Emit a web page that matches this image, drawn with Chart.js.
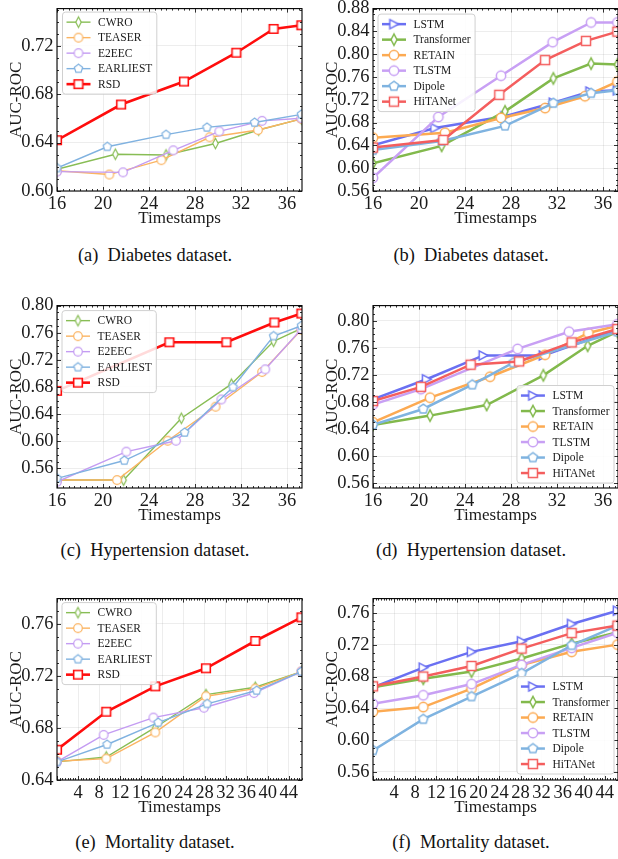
<!DOCTYPE html>
<html><head><meta charset="utf-8">
<script src="https://cdn.jsdelivr.net/npm/chart.js@4.4.1/dist/chart.umd.min.js"></script>
<style>
html,body{margin:0;padding:0;background:#fff;overflow:hidden;width:618px;height:859px;position:relative;}
canvas{position:absolute;}
.cap{position:absolute;font-family:"Liberation Serif","Times New Roman",serif;font-size:18.4px;line-height:20px;color:#111;white-space:nowrap;transform:translateX(-50%);}
</style></head><body>
<script>
// ---------- tick labels ----------
const xTicksDiabHyp = [16, 20, 24, 28, 32, 36];
const xTicksMort = [4, 8, 12, 16, 20, 24, 28, 32, 36, 40, 44];
const yTicksA = [0.60, 0.64, 0.68, 0.72];
const yTicksB = [0.56, 0.60, 0.64, 0.68, 0.72, 0.76, 0.80, 0.84, 0.88];
const yTicksC = [0.56, 0.60, 0.64, 0.68, 0.72, 0.76, 0.80];
const yTicksD = [0.56, 0.60, 0.64, 0.68, 0.72, 0.76, 0.80];
const yTicksE = [0.64, 0.68, 0.72, 0.76];
const yTicksF = [0.56, 0.60, 0.64, 0.68, 0.72, 0.76];

const earlyMethods = ['CWRO', 'TEASER', 'E2EEC', 'EARLIEST', 'RSD'];
const healthMethods = ['LSTM', 'Transformer', 'RETAIN', 'TLSTM', 'Dipole', 'HiTANet'];
const captions = ['(a)\u2002Diabetes dataset.', '(b)\u2002Diabetes dataset.', '(c)\u2002Hypertension dataset.',
                  '(d)\u2002Hypertension dataset.', '(e)\u2002Mortality dataset.', '(f)\u2002Mortality dataset.'];

// ---------- (a) Diabetes, early classification ----------
const aCWRO_x = [16, 21.07, 25.48, 29.77, 33.53, 37.25];
const aCWRO_y = [0.618, 0.6304, 0.6298, 0.6393, 0.6504, 0.6596];
const aTEASER_x = [16, 20.55, 25.07, 29.27, 33.48, 37.25];
const aTEASER_y = [0.6168, 0.6136, 0.6255, 0.6444, 0.6504, 0.6596];
const aE2EEC_x = [16, 21.74, 26.11, 30.11, 33.83, 37.25];
const aE2EEC_y = [0.616, 0.6154, 0.6336, 0.6493, 0.658, 0.6601];
const aEARLIEST_x = [16, 20.37, 25.48, 29.04, 33.18, 37.25];
const aEARLIEST_y = [0.619, 0.6366, 0.6466, 0.6526, 0.6566, 0.6634];
const aRSD_x = [16, 21.57, 27.04, 31.59, 34.83, 37.25];
const aRSD_y = [0.642, 0.6715, 0.6905, 0.7143, 0.734, 0.737];

// ---------- (b) Diabetes, health models ----------
const bLSTM_x = [16, 21.39, 27.48, 31.68, 34.87, 37.25];
const bLSTM_y = [0.6404, 0.6704, 0.6912, 0.7149, 0.7345, 0.7367];
const bTransformer_x = [16, 21.97, 27.48, 31.68, 34.96, 37.25];
const bTransformer_y = [0.6085, 0.6392, 0.6998, 0.7575, 0.7835, 0.7818];
const bRETAIN_x = [16, 22.26, 27.13, 30.96, 34.43, 37.25];
const bRETAIN_y = [0.6536, 0.6622, 0.6882, 0.7055, 0.7263, 0.7518];
const bTLSTM_x = [16, 21.68, 27.13, 31.62, 34.96, 37.25];
const bTLSTM_y = [0.5832, 0.6899, 0.7622, 0.8211, 0.8557, 0.8557];
const bDipole_x = [16, 21.97, 27.48, 31.68, 34.96, 37.25];
const bDipole_y = [0.6317, 0.6478, 0.6743, 0.7142, 0.7315, 0.7367];
const bHiTANet_x = [16, 22.11, 26.98, 30.96, 34.52, 37.25];
const bHiTANet_y = [0.6362, 0.6496, 0.7287, 0.7897, 0.8233, 0.8396];

// ---------- (c) Hypertension, early classification ----------
const cCWRO_x = [16, 21.79, 26.81, 31.16, 34.83, 37.25];
const cCWRO_y = [0.5427, 0.5427, 0.6338, 0.6841, 0.7474, 0.7664];
const cTEASER_x = [16, 21.22, 25.62, 29.79, 33.83, 37.25];
const cTEASER_y = [0.5427, 0.5427, 0.6007, 0.6509, 0.702, 0.7645];
const cE2EEC_x = [16, 22.03, 26.35, 30.29, 34.11, 37.25];
const cE2EEC_y = [0.5402, 0.5846, 0.6007, 0.6616, 0.706, 0.7655];
const cEARLIEST_x = [16, 21.85, 27.1, 31.3, 34.83, 37.25];
const cEARLIEST_y = [0.5452, 0.5715, 0.6129, 0.6797, 0.7551, 0.7703];
const cRSD_x = [16, 25.77, 30.73, 34.9, 37.25];
const cRSD_y = [0.6743, 0.7459, 0.7459, 0.7751, 0.7883];

// ---------- (d) Hypertension, health models ----------
const dLSTM_x = [16, 20.66, 25.59, 30.81, 37.25];
const dLSTM_y = [0.684, 0.7135, 0.7487, 0.7487, 0.7868];
const dTransformer_x = [16, 20.96, 25.88, 30.81, 34.66, 37.25];
const dTransformer_y = [0.646, 0.6598, 0.6755, 0.7193, 0.763, 0.7838];
const dRETAIN_x = [16, 20.96, 26.18, 30.96, 34.72, 37.25];
const dRETAIN_y = [0.6499, 0.6863, 0.7173, 0.7497, 0.7819, 0.7927];
const dTLSTM_x = [16, 20.17, 28.57, 33.04, 37.25];
const dTLSTM_y = [0.6763, 0.6989, 0.7584, 0.7838, 0.7949];
const dDipole_x = [16, 20.37, 24.63, 28.2, 37.25];
const dDipole_y = [0.6461, 0.6696, 0.7055, 0.738, 0.7838];
const dHiTANet_x = [16, 20.17, 24.49, 28.7, 33.27, 37.25];
const dHiTANet_y = [0.6813, 0.7023, 0.735, 0.7399, 0.768, 0.7878];

// ---------- (e) Mortality, early classification ----------
const eCWRO_x = [0, 9.35, 18.65, 28.27, 37.63, 46.4];
const eCWRO_y = [0.6539, 0.6577, 0.6804, 0.7057, 0.7113, 0.7234];
const eTEASER_x = [0, 9.35, 18.65, 28.27, 37.63, 46.4];
const eTEASER_y = [0.6544, 0.6564, 0.6766, 0.7044, 0.7103, 0.7234];
const eE2EEC_x = [0, 8.85, 18.3, 27.9, 37.4, 46.4];
const eE2EEC_y = [0.6539, 0.6747, 0.688, 0.6956, 0.7069, 0.7234];
const eEARLIEST_x = [0, 9.5, 19.2, 28.5, 37.9, 46.4];
const eEARLIEST_y = [0.6539, 0.6673, 0.6842, 0.6986, 0.7088, 0.7234];
const eRSD_x = [0, 9.35, 18.65, 28.27, 37.63, 46.4];
const eRSD_y = [0.6633, 0.6925, 0.712, 0.7259, 0.7469, 0.7651];

// ---------- (f) Mortality, health models ----------
const fTimes = [0, 9.54, 18.7, 28.2, 37.7, 46.4];
const fLSTM_y = [0.6665, 0.6913, 0.7112, 0.7245, 0.7463, 0.763];
const fTransformer_y = [0.6665, 0.6773, 0.6863, 0.7029, 0.7215, 0.736];
const fRETAIN_y = [0.6358, 0.6416, 0.6648, 0.6947, 0.7112, 0.7203];
const fTLSTM_y = [0.6457, 0.6565, 0.6706, 0.6947, 0.7162, 0.7352];
const fDipole_y = [0.587, 0.6263, 0.6549, 0.6842, 0.7195, 0.7443];
const fHiTANet_y = [0.6677, 0.6801, 0.6934, 0.7153, 0.7348, 0.7443];

// ================= rendering =================
const FONT = '"Liberation Serif","Times New Roman",serif';
const TXT = '#1a1a1a';

function marker(shape, color, r, lw) {
  const s = Math.ceil(2.5 * r + lw + 2);
  const c = document.createElement('canvas');
  c.width = c.height = s;
  const g = c.getContext('2d');
  const m = s / 2;
  g.beginPath();
  if (shape === 'circle') g.arc(m, m, r, 0, 2 * Math.PI);
  else if (shape === 'square') g.rect(m - r * 0.92, m - r * 0.92, 1.84 * r, 1.84 * r);
  else if (shape === 'diamond') { g.moveTo(m, m - r * 1.18); g.lineTo(m + r * 0.62, m); g.lineTo(m, m + r * 1.18); g.lineTo(m - r * 0.62, m); g.closePath(); }
  else if (shape === 'pentagon') { for (let i = 0; i < 5; i++) { const a = -Math.PI / 2 + i * 2 * Math.PI / 5; const px = m + r * Math.cos(a), py = m + r * Math.sin(a); if (i) g.lineTo(px, py); else g.moveTo(px, py); } g.closePath(); }
  else if (shape === 'tri') { g.moveTo(m + r, m); g.lineTo(m - r * 0.9, m - r); g.lineTo(m - r * 0.9, m + r); g.closePath(); }
  g.fillStyle = '#fff'; g.fill();
  g.strokeStyle = color; g.lineWidth = lw; g.lineJoin = 'miter'; g.stroke();
  return c;
}

const earlyStyle = {
  CWRO: {shape: 'diamond', color: '#88bd55', lw: 1.4, r: 4.4, mlw: 1.2},
  TEASER: {shape: 'circle', color: '#fbb462', lw: 1.4, r: 4.3, mlw: 1.2},
  E2EEC: {shape: 'circle', color: '#c49cf2', lw: 1.4, r: 4.3, mlw: 1.2},
  EARLIEST: {shape: 'pentagon', color: '#80b2e0', lw: 1.4, r: 4.4, mlw: 1.2},
  RSD: {shape: 'square', color: '#ff0d0d', lw: 2.6, r: 4.7, mlw: 1.6}
};
const healthStyle = {
  LSTM: {shape: 'tri', color: '#6a70f2', lw: 2.5, r: 4.6, mlw: 1.5},
  Transformer: {shape: 'diamond', color: '#82b94c', lw: 2.5, r: 4.8, mlw: 1.5},
  RETAIN: {shape: 'circle', color: '#fcaa52', lw: 2.5, r: 4.7, mlw: 1.5},
  TLSTM: {shape: 'circle', color: '#c8a0f4', lw: 2.5, r: 4.7, mlw: 1.5},
  Dipole: {shape: 'pentagon', color: '#7fb3e0', lw: 2.5, r: 4.9, mlw: 1.5},
  HiTANet: {shape: 'square', color: '#f45e5e', lw: 2.5, r: 4.9, mlw: 1.5}
};

function pts(xs, ys) { return xs.map((x, i) => ({x: x, y: ys[i]})); }

const panels = [
  {left: 0, top: -6, h: 237, xMin: 16, xMax: 37.3, yMin: 0.60, yMax: 0.7508, xTicks: xTicksDiabHyp, yTicks: yTicksA,
   styles: earlyStyle, names: earlyMethods,
   data: [pts(aCWRO_x, aCWRO_y), pts(aTEASER_x, aTEASER_y), pts(aE2EEC_x, aE2EEC_y), pts(aEARLIEST_x, aEARLIEST_y), pts(aRSD_x, aRSD_y)],
   legend: {corner: 'tl', dx: 5.5, dy: 3.5}, cap: captions[0], capX: 155, capY: 245},
  {left: 316, top: -6, h: 237, xMin: 16, xMax: 37.3, yMin: 0.56, yMax: 0.88, xTicks: xTicksDiabHyp, yTicks: yTicksB,
   styles: healthStyle, names: healthMethods,
   data: [pts(bLSTM_x, bLSTM_y), pts(bTransformer_x, bTransformer_y), pts(bRETAIN_x, bRETAIN_y), pts(bTLSTM_x, bTLSTM_y), pts(bDipole_x, bDipole_y), pts(bHiTANet_x, bHiTANet_y)],
   legend: {corner: 'tl', dx: 5, dy: 5.5}, cap: captions[1], capX: 471, capY: 245},
  {left: 0, top: 291, h: 237, xMin: 16, xMax: 37.3, yMin: 0.531, yMax: 0.80, xTicks: xTicksDiabHyp, yTicks: yTicksC,
   styles: earlyStyle, names: earlyMethods,
   data: [pts(cCWRO_x, cCWRO_y), pts(cTEASER_x, cTEASER_y), pts(cE2EEC_x, cE2EEC_y), pts(cEARLIEST_x, cEARLIEST_y), pts(cRSD_x, cRSD_y)],
   legend: {corner: 'tl', dx: 5, dy: 5}, cap: captions[2], capX: 155, capY: 540},
  {left: 316, top: 291, h: 237, xMin: 16, xMax: 37.3, yMin: 0.5528, yMax: 0.8224, xTicks: xTicksDiabHyp, yTicks: yTicksD,
   styles: healthStyle, names: healthMethods,
   data: [pts(dLSTM_x, dLSTM_y), pts(dTransformer_x, dTransformer_y), pts(dRETAIN_x, dRETAIN_y), pts(dTLSTM_x, dTLSTM_y), pts(dDipole_x, dDipole_y), pts(dHiTANet_x, dHiTANet_y)],
   legend: {corner: 'br', dx: 4, dy: 5}, cap: captions[3], capX: 471, capY: 540},
  {left: 0, top: 584, h: 236, xMin: 0, xMax: 46.5, yMin: 0.64, yMax: 0.7795, xTicks: xTicksMort, yTicks: yTicksE,
   styles: earlyStyle, names: earlyMethods,
   data: [pts(eCWRO_x, eCWRO_y), pts(eTEASER_x, eTEASER_y), pts(eE2EEC_x, eE2EEC_y), pts(eEARLIEST_x, eEARLIEST_y), pts(eRSD_x, eRSD_y)],
   legend: {corner: 'tl', dx: 5, dy: 4}, cap: captions[4], capX: 155, capY: 832},
  {left: 316, top: 584, h: 236, xMin: 0, xMax: 46.5, yMin: 0.5497, yMax: 0.7783, xTicks: xTicksMort, yTicks: yTicksF,
   styles: healthStyle, names: healthMethods,
   data: [pts(fTimes, fLSTM_y), pts(fTimes, fTransformer_y), pts(fTimes, fRETAIN_y), pts(fTimes, fTLSTM_y), pts(fTimes, fDipole_y), pts(fTimes, fHiTANet_y)],
   legend: {corner: 'br', dx: 4, dy: 6}, cap: captions[5], capX: 471, capY: 832}
];

function isMult(v, step) { const q = v / step; return Math.abs(q - Math.round(q)) < 1e-6; }

const framePlugin = {
  id: 'frame',
  afterDatasetsDraw(chart) {
    const {ctx, chartArea: a} = chart;
    const xs = chart.scales.x, ys = chart.scales.y;
    const o = chart.options.plugins.frame;
    ctx.save();
    ctx.strokeStyle = '#000';
    ctx.lineWidth = 0.8;
    ctx.beginPath();
    for (let k = Math.ceil(xs.min / o.xMinor - 1e-9); k * o.xMinor <= xs.max + 1e-9; k++) {
      const v = k * o.xMinor;
      const px = Math.round(xs.getPixelForValue(v)) + 0.5;
      const L = isMult(v, o.xMajor) ? 4 : 2;
      ctx.moveTo(px, a.bottom); ctx.lineTo(px, a.bottom - L);
      ctx.moveTo(px, a.top); ctx.lineTo(px, a.top + L);
    }
    for (let k = Math.ceil(ys.min / o.yMinor - 1e-9); k * o.yMinor <= ys.max + 1e-9; k++) {
      const v = k * o.yMinor;
      const py = Math.round(ys.getPixelForValue(v)) + 0.5;
      const L = isMult(v, o.yMajor) ? 4 : 2;
      ctx.moveTo(a.left, py); ctx.lineTo(a.left + L, py);
      ctx.moveTo(a.right, py); ctx.lineTo(a.right - L, py);
    }
    ctx.stroke();
    ctx.lineWidth = 1.1;
    ctx.strokeRect(a.left, a.top, a.right - a.left, a.bottom - a.top);
    ctx.restore();
  },
  afterDraw(chart) {
    const {ctx, chartArea: a} = chart;
    const L = chart.options.plugins.frame.legend;
    const ds = chart.data.datasets;
    ctx.save();
    ctx.font = '11.5px ' + FONT;
    const tw = Math.max(...ds.map(d => ctx.measureText(d.label).width));
    const rowH = 15.5;
    const w = 35.5 + tw + 4.5, h = ds.length * rowH + 4.5;
    const bx = L.corner === 'tl' ? a.left + L.dx : a.right - L.dx - w;
    const by = L.corner === 'tl' ? a.top + L.dy : a.bottom - L.dy - h;
    ctx.beginPath();
    ctx.roundRect(bx, by, w, h, 3);
    ctx.fillStyle = 'rgba(255,255,255,0.85)';
    ctx.fill();
    ctx.strokeStyle = '#d0d0d0';
    ctx.lineWidth = 1;
    ctx.stroke();
    ds.forEach((d, i) => {
      const cy = by + 2.3 + rowH * (i + 0.5);
      ctx.beginPath();
      ctx.strokeStyle = d.borderColor;
      ctx.lineWidth = d.borderWidth;
      ctx.moveTo(bx + 4, cy); ctx.lineTo(bx + 28, cy);
      ctx.stroke();
      const img = d.pointStyle;
      ctx.drawImage(img, bx + 16 - img.width / 2, cy - img.height / 2);
      ctx.fillStyle = TXT;
      ctx.textBaseline = 'middle';
      ctx.textAlign = 'left';
      ctx.fillText(d.label, bx + 35.5, cy + 0.5);
    });
    ctx.restore();
  }
};

panels.forEach((p, pi) => {
  const cv = document.createElement('canvas');
  cv.width = 310; cv.height = p.h;
  cv.style.left = p.left + 'px'; cv.style.top = p.top + 'px';
  cv.style.width = '310px'; cv.style.height = p.h + 'px';
  document.body.appendChild(cv);
  const n = p.names.length;
  const datasets = p.names.map((name, i) => {
    const s = p.styles[name];
    return {
      label: name, data: p.data[i],
      borderColor: s.color, backgroundColor: '#fff', borderWidth: s.lw,
      pointStyle: marker(s.shape, s.color, s.r, s.mlw), pointRadius: 5, pointHoverRadius: 5,
      tension: 0, fill: false, order: n - i
    };
  });
  new Chart(cv, {
    type: 'line',
    data: {datasets: datasets},
    plugins: [framePlugin],
    options: {
      responsive: false, animation: false, devicePixelRatio: 1,
      layout: {padding: {top: 12, right: 8, left: 0, bottom: 0}},
      plugins: {legend: {display: false}, tooltip: {enabled: false},
        frame: {xMajor: 4, xMinor: 0.5, yMajor: 0.04, yMinor: 0.01, legend: p.legend}},
      scales: {
        x: {
          type: 'linear', min: p.xMin, max: p.xMax,
          afterBuildTicks: sc => { sc.ticks = p.xTicks.map(v => ({value: v})); },
          afterFit: sc => { sc.height = 40; },
          ticks: {font: {family: FONT, size: 18.5}, color: TXT, padding: 2.5, maxRotation: 0, autoSkip: false,
                  callback: v => String(v)},
          grid: {color: 'rgba(0,0,0,0.09)', lineWidth: 0.8, drawTicks: false},
          border: {display: false},
          title: {display: true, text: 'Timestamps', font: {family: FONT, size: 17}, color: TXT,
                  padding: {top: 0, bottom: 2.6}}
        },
        y: {
          type: 'linear', min: p.yMin, max: p.yMax,
          afterBuildTicks: sc => { sc.ticks = p.yTicks.map(v => ({value: v})); },
          afterFit: sc => { sc.width = 57; },
          ticks: {font: {family: FONT, size: 18.5}, color: TXT, padding: 3.5, autoSkip: false,
                  callback: v => Number(v).toFixed(2)},
          grid: {color: 'rgba(0,0,0,0.09)', lineWidth: 0.8, drawTicks: false},
          border: {display: false},
          title: {display: true, text: 'AUC-ROC', font: {family: FONT, size: 17}, color: TXT,
                  padding: {top: 6.3, bottom: 0}}
        }
      }
    }
  });
  const cap = document.createElement('div');
  cap.className = 'cap';
  cap.textContent = p.cap;
  cap.style.left = p.capX + 'px';
  cap.style.top = p.capY + 'px';
  document.body.appendChild(cap);
});
</script>
</body></html>
